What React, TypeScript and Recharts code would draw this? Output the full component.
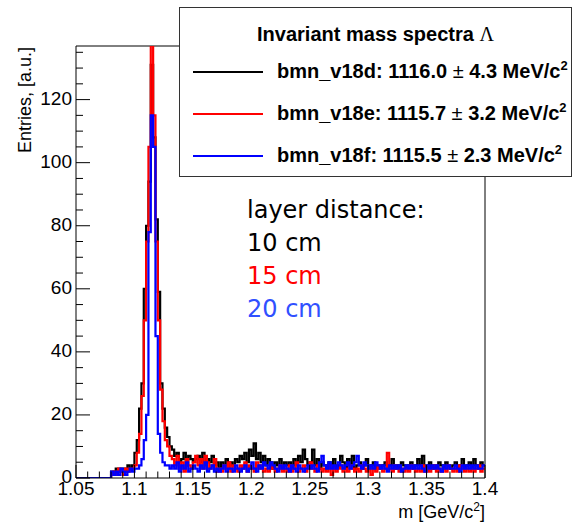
import * as React from "react";
import {
  LineChart,
  Line,
  XAxis,
  YAxis,
  ReferenceLine,
} from "recharts";

// 2 MeV bins from 1.050 to 1.400 GeV/c^2 (175 bins), entries per bin
const BIN_START = 1.05;
const BIN_WIDTH = 0.002;

// bmn_v18d (10 cm)
const V18D = [
  0, 0, 0, 0, 0, 0, 0, 0, 0, 0, 0, 0, 0, 0, 0,
  2, 1, 3, 2, 3, 3, 2, 4, 3, 4,
  8, 12, 22, 30, 60, 80, 94, 131, 108, 82, 59, 30, 22, 16, 13, 10,
  9, 7, 8, 5, 6, 8, 4, 7, 6, 5,
  6, 7, 5, 8, 4, 6, 5, 7, 4, 5,
  3, 5, 4, 6, 3, 5, 4, 6, 5, 7,
  6, 8, 5, 9, 7, 11, 6, 8, 5, 7,
  4, 6, 5, 3, 5, 4, 6, 3, 5, 4,
  5, 3, 6, 4, 7, 5, 9, 6, 4, 5,
  9, 4, 6, 3, 5, 4, 3, 5, 4, 6,
  3, 4, 7, 5, 3, 6, 4, 7, 3, 4,
  5, 3, 4, 6, 3, 4, 5, 3, 4, 3,
  4, 5, 3, 4, 6, 3, 4, 3, 5, 4,
  3, 4, 5, 3, 4, 6, 4, 7, 3, 4,
  5, 3, 4, 3, 5, 4, 3, 5, 4, 3,
  4, 5, 3, 4, 6, 3, 4, 5, 3, 6,
  4, 3, 5, 4,
];

// bmn_v18e (15 cm)
const V18E = [
  0, 0, 0, 0, 0, 0, 0, 0, 0, 0, 0, 0, 0, 0, 0,
  1, 2, 1, 3, 2, 1, 3, 2, 3, 3,
  4, 8, 14, 26, 50, 75, 105, 145, 115, 75, 50, 28, 18, 12, 10, 7,
  6, 4, 7, 3, 5, 2, 6, 4, 3, 5,
  7, 4, 6, 3, 7, 5, 3, 4, 6, 2,
  3, 2, 4, 3, 5, 2, 4, 3, 2, 4,
  3, 5, 2, 4, 3, 2, 5, 3, 4, 2,
  3, 2, 4, 3, 2, 3, 4, 2, 3, 2,
  4, 2, 3, 5, 2, 3, 4, 2, 3, 5,
  3, 2, 4, 3, 2, 3, 2, 4, 1, 3,
  2, 3, 4, 2, 3, 2, 4, 3, 2, 3,
  2, 4, 3, 2, 3, 1, 3, 2, 4, 3,
  2, 3, 8, 3, 2, 4, 3, 2, 3, 2,
  3, 2, 4, 3, 2, 3, 2, 4, 2, 3,
  2, 3, 4, 2, 3, 2, 3, 2, 4, 3,
  2, 3, 2, 4, 3, 2, 3, 2, 3, 2,
  3, 4, 2, 3,
];

// bmn_v18f (20 cm)
const V18F = [
  0, 0, 0, 0, 0, 0, 0, 0, 0, 0, 0, 0, 0, 0, 0,
  2, 1, 2, 1, 3, 2, 1, 2, 3, 2,
  3, 3, 4, 6, 12, 20, 78, 115, 105, 45, 14, 8, 5, 4, 4, 3,
  4, 3, 5, 2, 4, 3, 5, 2, 3, 4,
  3, 2, 4, 3, 5, 2, 3, 4, 2, 3,
  2, 3, 4, 2, 3, 3, 2, 4, 3, 2,
  3, 4, 2, 3, 5, 3, 2, 4, 3, 5,
  4, 3, 5, 4, 3, 2, 4, 3, 4, 3,
  2, 4, 3, 2, 4, 3, 2, 3, 4, 3,
  4, 3, 2, 5, 7, 4, 3, 5, 3, 4,
  3, 5, 4, 3, 4, 5, 3, 4, 5, 7,
  4, 3, 5, 4, 3, 4, 3, 5, 4, 3,
  4, 3, 2, 4, 3, 4, 3, 4, 2, 3,
  4, 3, 4, 3, 4, 3, 4, 3, 2, 4,
  3, 4, 3, 4, 3, 2, 4, 3, 4, 3,
  3, 4, 3, 2, 4, 3, 4, 3, 4, 3,
  4, 3, 3, 4,
];

const X_TICKS = [
  1.05, 1.06, 1.07, 1.08, 1.09, 1.1, 1.11, 1.12, 1.13, 1.14, 1.15, 1.16,
  1.17, 1.18, 1.19, 1.2, 1.21, 1.22, 1.23, 1.24, 1.25, 1.26, 1.27, 1.28,
  1.29, 1.3, 1.31, 1.32, 1.33, 1.34, 1.35, 1.36, 1.37, 1.38, 1.39, 1.4,
];
const Y_TICKS = [
  0, 5, 10, 15, 20, 25, 30, 35, 40, 45, 50, 55, 60, 65, 70, 75, 80, 85, 90,
  95, 100, 105, 110, 115, 120, 125, 130, 135,
];
const Y_MAX = 137;

const SERIES = [
  { key: "d", name: "bmn_v18d", mean: "1116.0", sigma: "4.3", color: "#000000" },
  { key: "e", name: "bmn_v18e", mean: "1115.7", sigma: "3.2", color: "#ff0000" },
  { key: "f", name: "bmn_v18f", mean: "1115.5", sigma: "2.3", color: "#0000ff" },
];

const DISTANCES = [
  { text: "10 cm", color: "#000000" },
  { text: "15 cm", color: "#ff0000" },
  { text: "20 cm", color: "#3050ff" },
];

// step points at bin edges; last edge repeats the last bin
const data = Array.from({ length: V18D.length + 1 }, (_, i) => {
  const j = Math.min(i, V18D.length - 1);
  return {
    m: +(BIN_START + BIN_WIDTH * i).toFixed(3),
    d: V18D[j],
    e: V18E[j],
    f: V18F[j],
  };
});

const FONT = "'Liberation Sans', Arial, Helvetica, sans-serif";

const XTick = (props: any) => {
  const { x, y, payload } = props;
  const v = payload.value as number;
  const major = Math.round(v * 100) % 5 === 0;
  return (
    <g>
      <line x1={x} x2={x} y1={y} y2={y - (major ? 13 : 6.5)} stroke="#000" strokeWidth={1} />
      {major && (
        <text x={x} y={y + 17} textAnchor="middle" fontSize={19} fontFamily={FONT} fill="#000">
          {String(+v.toFixed(2))}
        </text>
      )}
    </g>
  );
};

const YTick = (props: any) => {
  const { x, y, payload } = props;
  const v = payload.value as number;
  const major = v % 20 === 0;
  return (
    <g>
      <line x1={x} x2={x + (major ? 14 : 7)} y1={y} y2={y} stroke="#000" strokeWidth={1} />
      {major && (
        <text x={x - 4} y={y + 5} textAnchor="end" fontSize={19} fontFamily={FONT} fill="#000">
          {v}
        </text>
      )}
    </g>
  );
};

export default function App() {
  return (
    <div
      style={{
        position: "absolute",
        left: 0,
        top: 0,
        width: 572,
        height: 524,
        background: "#fff",
        overflow: "hidden",
      }}
    >
      <LineChart
        width={572}
        height={524}
        data={data}
        margin={{ top: 46, right: 87, bottom: 0, left: 0 }}
      >
        <XAxis
          dataKey="m"
          type="number"
          domain={[1.05, 1.4]}
          ticks={X_TICKS}
          interval={0}
          height={46}
          tickSize={0}
          tickMargin={0}
          tickLine={false}
          axisLine={{ stroke: "#000" }}
          tick={<XTick />}
          allowDataOverflow
        />
        <YAxis
          type="number"
          domain={[0, Y_MAX]}
          ticks={Y_TICKS}
          interval={0}
          width={76}
          tickSize={0}
          tickMargin={0}
          tickLine={false}
          axisLine={{ stroke: "#000" }}
          tick={<YTick />}
          allowDataOverflow
        />
        <ReferenceLine y={Y_MAX} stroke="#000" />
        <ReferenceLine x={1.4} stroke="#000" />
        {SERIES.map((s) => (
          <Line
            key={s.key}
            dataKey={s.key}
            type="stepAfter"
            stroke={s.color}
            strokeWidth={2.2}
            dot={false}
            activeDot={false}
            isAnimationActive={false}
          />
        ))}
        <text
          x={31}
          y={47}
          textAnchor="end"
          transform="rotate(-90, 31, 47)"
          fontSize={18}
          fontFamily={FONT}
          fill="#000"
        >
          Entries, [a.u.]
        </text>
        <text x={485} y={518} textAnchor="end" fontSize={18} fontFamily={FONT} fill="#000">
          m [GeV/c
          <tspan dy={-7} fontSize={12}>2</tspan>
          <tspan dy={7}>]</tspan>
        </text>
      </LineChart>

      {/* annotation */}
      <div
        style={{
          position: "absolute",
          left: 247,
          top: 194,
          fontFamily: "'DejaVu Sans', Verdana, sans-serif",
          fontSize: 24,
          lineHeight: "33px",
        }}
      >
        <div style={{ color: "#000" }}>layer distance:</div>
        {DISTANCES.map((d) => (
          <div key={d.text} style={{ color: d.color }}>
            {d.text}
          </div>
        ))}
      </div>

      {/* legend */}
      <div
        style={{
          position: "absolute",
          left: 179,
          top: 7,
          width: 391,
          height: 168,
          border: "1px solid #333",
          background: "#fff",
          fontFamily: FONT,
          fontWeight: "bold",
          color: "#000",
        }}
      >
        <div
          style={{
            position: "absolute",
            left: 0,
            right: 0,
            top: 14,
            textAlign: "center",
            fontSize: 20,
            lineHeight: "24px",
          }}
        >
          Invariant mass spectra{" "}
          <span style={{ fontFamily: "'Liberation Serif', serif", fontWeight: "normal", fontSize: 20 }}>
            Λ
          </span>
        </div>
        {SERIES.map((s, i) => (
          <div
            key={s.key}
            style={{ position: "absolute", left: 0, top: 51 + i * 42, height: 24, width: 400 }}
          >
            <div
              style={{
                position: "absolute",
                left: 13,
                top: 12,
                width: 70,
                height: 2,
                background: s.color,
              }}
            />
            <div
              style={{
                position: "absolute",
                left: 97,
                top: 0,
                fontSize: 20,
                lineHeight: "24px",
                whiteSpace: "nowrap",
              }}
            >
              {s.name}: {s.mean}{" "}
              <span style={{ fontWeight: "normal" }}>±</span> {s.sigma} MeV/c
              <sup style={{ fontSize: 13, lineHeight: 0 }}>2</sup>
            </div>
          </div>
        ))}
      </div>
    </div>
  );
}
